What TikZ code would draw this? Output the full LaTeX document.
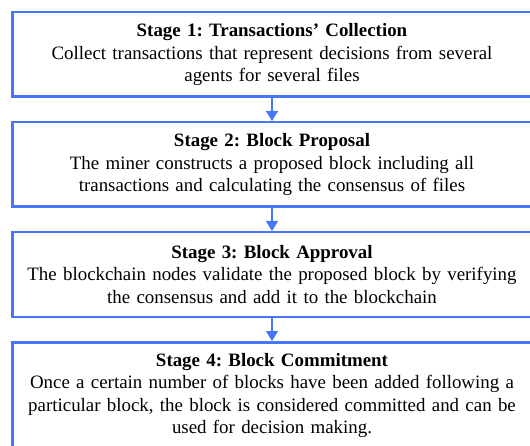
\documentclass[tikz,border=0pt]{standalone}
\usepackage{fontspec}
\setmainfont{Liberation Serif}
\usepackage{tikz}
\usetikzlibrary{arrows.meta,positioning}
\usepackage{xcolor}
\definecolor{stageblue}{RGB}{72,118,248}
\frenchspacing

\begin{document}
\begin{tikzpicture}[>={Triangle[width=12pt,length=10pt]},
  stagebox/.style={draw=stageblue,line width=2.5pt,fill=white,minimum width=519.5pt,
    minimum height=84.5pt,text width=515pt,align=center,inner sep=0pt,
    font=\fontsize{18.9}{22.5}\selectfont},
  flow/.style={->,stageblue,line width=1.3pt}]
\useasboundingbox (0,0) rectangle (530pt,-446pt);
\node[stagebox,anchor=north west] (s1) at (11pt,-11pt)
  {\textbf{Stage 1: Transactions' Collection}\\
   Collect transactions that represent decisions from several\\
   agents for several files};
\node[stagebox,below=23pt of s1] (s2)
  {\textbf{Stage 2: Block Proposal}\\
   The miner constructs a proposed block including all\\
   transactions and calculating the consensus of files};
\node[stagebox,below=23pt of s2] (s3)
  {\textbf{Stage 3: Block Approval}\\
   The blockchain nodes validate the proposed block by verifying\\
   the consensus and add it to the blockchain};
\node[stagebox,minimum height=106.5pt,below=23pt of s3] (s4)
  {\textbf{Stage 4: Block Commitment}\\
   Once a certain number of blocks have been added following a\\
   particular block, the block is considered committed and can be\\
   used for decision making.};
\draw[flow] (s1) -- (s2);
\draw[flow] (s2) -- (s3);
\draw[flow] (s3) -- (s4);
\end{tikzpicture}
\end{document}
